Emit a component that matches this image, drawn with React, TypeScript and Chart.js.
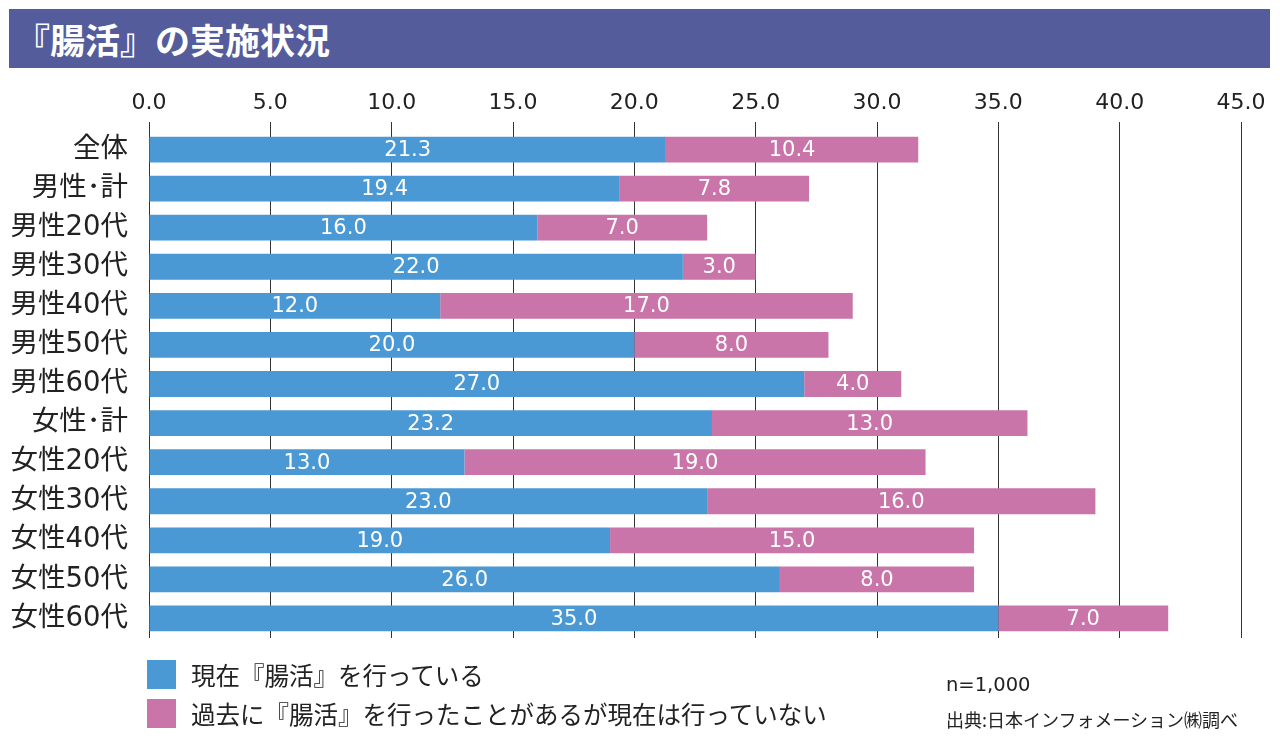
import React, { useEffect, useRef } from "react";
import { Chart, registerables } from "chart.js";

Chart.register(...registerables);

const categories = [
  "全体",
  "男性･計",
  "男性20代",
  "男性30代",
  "男性40代",
  "男性50代",
  "男性60代",
  "女性･計",
  "女性20代",
  "女性30代",
  "女性40代",
  "女性50代",
  "女性60代",
];
const currentValues = [21.3, 19.4, 16.0, 22.0, 12.0, 20.0, 27.0, 23.2, 13.0, 23.0, 19.0, 26.0, 35.0];
const pastValues = [10.4, 7.8, 7.0, 3.0, 17.0, 8.0, 4.0, 13.0, 19.0, 16.0, 15.0, 8.0, 7.0];
const seriesNames = ["現在『腸活』を行っている", "過去に『腸活』を行ったことがあるが現在は行っていない"];
const title = "『腸活』の実施状況";
const noteN = "n=1,000";
const noteSource = "出典:日本インフォメーション㈱調べ";

const BLUE = "#4b99d4";
const PINK = "#c975aa";
const BANNER = "#555c9b";
const LATIN = "'DejaVu Sans', 'Noto Sans CJK JP', sans-serif";
const CJK = "'Noto Sans CJK JP', sans-serif";

const barLabelPlugin = {
  id: "barLabels",
  afterDatasetsDraw(chart: any) {
    const ctx = chart.ctx;
    ctx.save();
    ctx.fillStyle = "#ffffff";
    ctx.font = `21px ${LATIN}`;
    ctx.textAlign = "center";
    ctx.textBaseline = "middle";
    chart.data.datasets.forEach((ds: any, di: number) => {
      const meta = chart.getDatasetMeta(di);
      meta.data.forEach((el: any, i: number) => {
        const v = ds.data[i];
        const cx = (el.x + el.base) / 2;
        ctx.fillText(Number(v).toFixed(1), cx, el.y + 1);
      });
    });
    ctx.restore();
  },
};

export default function App() {
  const canvasRef = useRef<HTMLCanvasElement | null>(null);

  useEffect(() => {
    if (!canvasRef.current) return;
    const chart = new Chart(canvasRef.current, {
      type: "bar",
      data: {
        labels: categories,
        datasets: [
          {
            label: seriesNames[0],
            data: currentValues,
            backgroundColor: BLUE,
            borderWidth: 0,
            barPercentage: 0.66,
            categoryPercentage: 1,
          },
          {
            label: seriesNames[1],
            data: pastValues,
            backgroundColor: PINK,
            borderWidth: 0,
            barPercentage: 0.66,
            categoryPercentage: 1,
          },
        ],
      },
      options: {
        indexAxis: "y",
        animation: false,
        responsive: false,
        maintainAspectRatio: false,
        layout: { padding: { left: 0, top: 0, right: 39, bottom: 103 } },
        plugins: {
          legend: { display: false },
          tooltip: { enabled: false },
        },
        scales: {
          x: {
            position: "top",
            stacked: true,
            min: 0,
            max: 45,
            afterFit(scale: any) {
              scale.height = 130;
            },
            ticks: {
              stepSize: 5,
              padding: 6,
              color: "#222222",
              font: { size: 22, family: LATIN },
              callback: (v: any) => Number(v).toFixed(1),
            },
            grid: {
              color: "#333333",
              lineWidth: 1,
              tickLength: 8,
              drawTicks: true,
            },
            border: { display: false },
          },
          y: {
            stacked: true,
            afterFit(scale: any) {
              scale.width = 149;
            },
            ticks: {
              padding: 13,
              color: "#222222",
              font: { size: 27.5, family: LATIN },
            },
            grid: { display: false },
            border: { display: false },
          },
        },
      },
      plugins: [barLabelPlugin],
    });
    return () => chart.destroy();
  }, []);

  const legendRow = (color: string, text: string, top: number) => (
    <div style={{ position: "absolute", left: 147, top, height: 29, display: "flex", alignItems: "center" }}>
      <div style={{ width: 29, height: 29, background: color }} />
      <div style={{ marginLeft: 15, fontFamily: CJK, fontSize: 24.5, color: "#222222", whiteSpace: "nowrap" }}>{text}</div>
    </div>
  );

  return (
    <div style={{ position: "absolute", left: 0, top: 0, width: 1280, height: 741, background: "#ffffff", overflow: "hidden" }}>
      <div
        style={{
          position: "absolute",
          left: 9,
          top: 9,
          width: 1261,
          height: 59,
          background: BANNER,
          display: "flex",
          alignItems: "center",
        }}
      >
        <span style={{ marginLeft: 6, color: "#ffffff", fontFamily: CJK, fontWeight: 700, fontSize: 35, whiteSpace: "nowrap" }}>{title}</span>
      </div>
      <canvas ref={canvasRef} width={1280} height={741} style={{ position: "absolute", left: 0, top: 0 }} />
      {legendRow(BLUE, seriesNames[0], 660)}
      {legendRow(PINK, seriesNames[1], 699)}
      <div style={{ position: "absolute", left: 946, top: 673, fontFamily: LATIN, fontSize: 19.5, color: "#222222", whiteSpace: "nowrap" }}>{noteN}</div>
      <div style={{ position: "absolute", left: 946, top: 706, fontFamily: CJK, fontSize: 18, color: "#222222", whiteSpace: "nowrap" }}>{noteSource}</div>
    </div>
  );
}
